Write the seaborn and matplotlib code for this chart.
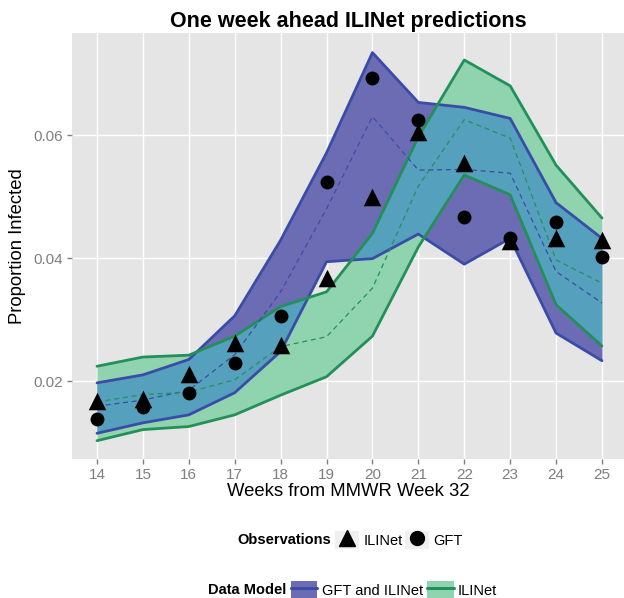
import matplotlib
matplotlib.use("Agg")
import matplotlib.pyplot as plt
import seaborn as sns
import numpy as np
import pandas as pd
from matplotlib.lines import Line2D
from matplotlib.patches import Patch
from matplotlib.legend_handler import HandlerTuple

# Weeks and band estimates
weeks = [14, 15, 16, 17, 18, 19, 20, 21, 22, 23, 24, 25]

both_lo = [0.0115, 0.0132, 0.0145, 0.0181, 0.0248, 0.0394, 0.0399, 0.0439, 0.0390, 0.0432, 0.0278, 0.0233]
both_mid = [0.0159, 0.0169, 0.0185, 0.0243, 0.0345, 0.0480, 0.0630, 0.0543, 0.0544, 0.0538, 0.0378, 0.0327]
both_hi = [0.0197, 0.0210, 0.0235, 0.0306, 0.0429, 0.0571, 0.0734, 0.0653, 0.0645, 0.0627, 0.0490, 0.0432]

ili_lo = [0.0103, 0.0121, 0.0126, 0.0145, 0.0177, 0.0207, 0.0273, 0.0418, 0.0535, 0.0503, 0.0324, 0.0257]
ili_mid = [0.0166, 0.0178, 0.0182, 0.0202, 0.0256, 0.0272, 0.0351, 0.0517, 0.0625, 0.0595, 0.0397, 0.0359]
ili_hi = [0.0224, 0.0239, 0.0242, 0.0273, 0.0321, 0.0345, 0.0440, 0.0597, 0.0722, 0.0680, 0.0551, 0.0465]

# Observations
obs_ilinet = [0.0168, 0.0170, 0.0212, 0.0262, 0.0259, 0.0368, 0.0500, 0.0605, 0.0555, 0.0428, 0.0432, 0.0429]
obs_gft = [0.0138, 0.0157, 0.0180, 0.0230, 0.0306, 0.0524, 0.0692, 0.0624, 0.0466, 0.0433, 0.0459, 0.0401]

BLUE_LINE = "#3A4CA6"
BLUE_FILL = "#6C6CB4"
GREEN_LINE = "#23905A"
GREEN_FILL = "#8FD4AF"
TEAL = "#55A1BD"
KEY_BG = "#F0F0F0"

sns.set_theme(style="darkgrid", rc={
    "axes.facecolor": "#E5E5E5",
    "grid.color": "white",
    "grid.linewidth": 1.0,
    "text.color": "black",
    "axes.labelcolor": "black",
})
plt.rcParams["font.family"] = ["Liberation Sans", "DejaVu Sans"]

fig = plt.figure(figsize=(6.24, 5.98), dpi=100)
ax = fig.add_axes([72 / 624, 139 / 598, 552 / 624, 426 / 598])

# bands
blue_band = ax.fill_between(weeks, both_lo, both_hi, color=BLUE_FILL, lw=0, zorder=1)
ax.fill_between(weeks, ili_lo, ili_hi, color=GREEN_FILL, lw=0, zorder=1)
overlap = ax.fill_between(weeks, ili_lo, ili_hi, color=TEAL, lw=0, zorder=1.5)
overlap.set_clip_path(blue_band.get_paths()[0], ax.transData)

lines = pd.DataFrame({
    "week": weeks * 6,
    "value": both_lo + both_hi + both_mid + ili_lo + ili_hi + ili_mid,
    "series": (["b_lo"] * 12 + ["b_hi"] * 12 + ["b_mid"] * 12
               + ["g_lo"] * 12 + ["g_hi"] * 12 + ["g_mid"] * 12),
})
for key, col in [("b_lo", BLUE_LINE), ("b_hi", BLUE_LINE), ("g_lo", GREEN_LINE), ("g_hi", GREEN_LINE)]:
    sns.lineplot(data=lines[lines.series == key], x="week", y="value", color=col,
                 lw=2.0, ax=ax, zorder=3)
for key, col in [("b_mid", BLUE_LINE), ("g_mid", GREEN_LINE)]:
    sns.lineplot(data=lines[lines.series == key], x="week", y="value", color=col,
                 lw=0.9, ls=(0, (4, 3)), ax=ax, zorder=3)

# observations
sns.scatterplot(x=weeks, y=obs_ilinet, marker="^", s=160, color="black", linewidth=0, ax=ax, zorder=4)
sns.scatterplot(x=weeks, y=obs_gft, marker="o", s=100, color="black", linewidth=0, ax=ax, zorder=4)

ax.set_xlim(13.455, 25.48)
ax.set_ylim(0.00732, 0.07659)
ax.set_xticks(weeks)
ax.set_yticks([0.02, 0.04, 0.06])
ax.set_yticklabels(["0.02", "0.04", "0.06"])
ax.grid(True, which="major")
ax.tick_params(axis="both", colors="#7F7F7F", labelsize=11, length=3.5, width=1,
               labelcolor="#7F7F7F", pad=3, left=True, bottom=True)
for s in ax.spines.values():
    s.set_visible(False)
ax.set_xlabel("Weeks from MMWR Week 32", fontsize=13.3, color="black", labelpad=1)
ax.set_ylabel("Proportion Infected", fontsize=13.3, color="black", labelpad=5)
ax.set_title("One week ahead ILINet predictions", fontsize=15.5, fontweight="bold",
             color="black", pad=4)

tuple_handler = {tuple: HandlerTuple(ndivide=1, pad=0)}

# Observations legend
fig.text(237 / 624, 1 - 540 / 598, "Observations", fontsize=10.5, fontweight="bold",
         color="black", va="center")
obs_handles = [
    (Patch(facecolor=KEY_BG, edgecolor="none"),
     Line2D([], [], marker="^", color="black", ls="none", markersize=12)),
    (Patch(facecolor=KEY_BG, edgecolor="none"),
     Line2D([], [], marker="o", color="black", ls="none", markersize=10)),
]
fig.legend(obs_handles, ["ILINet", "GFT"], loc="center left",
           bbox_to_anchor=(322 / 624, 1 - 540 / 598), ncol=2, frameon=False,
           fontsize=10.5, handlelength=1.65, handleheight=1.5, handletextpad=0.3,
           columnspacing=0.13, handler_map=tuple_handler)

# Data Model legend
fig.text(208 / 624, 1 - 590 / 598, "Data Model", fontsize=10.5, fontweight="bold",
         color="black", va="center")
dm_handles = [
    (Patch(facecolor=BLUE_FILL, edgecolor="none"), Line2D([], [], color=BLUE_LINE, lw=2.2)),
    (Patch(facecolor=GREEN_FILL, edgecolor="none"), Line2D([], [], color=GREEN_LINE, lw=2.2)),
]
fig.legend(dm_handles, ["GFT and ILINet", "ILINet"], loc="center left",
           bbox_to_anchor=(278 / 624, 1 - 590 / 598), ncol=2, frameon=False,
           fontsize=10.5, handlelength=1.8, handleheight=1.5, handletextpad=0.3,
           columnspacing=0.3, handler_map=tuple_handler)

fig.savefig("out.png", dpi=100)
